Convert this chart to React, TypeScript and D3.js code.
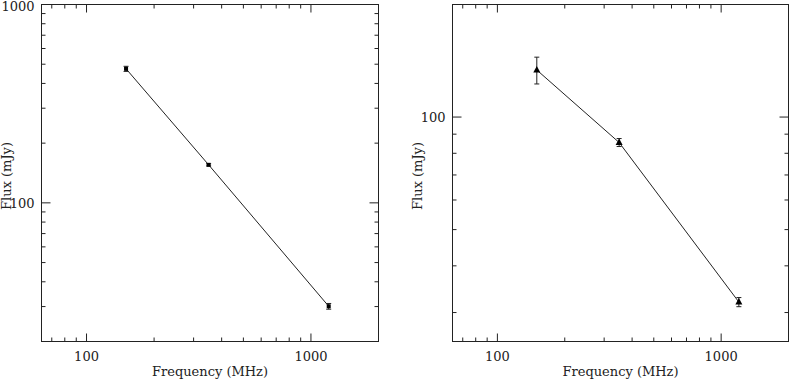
import React from 'react';
import * as d3 from 'd3';

// frequencies in MHz, shared by both panels
const freqs = [150, 350, 1200];

// left panel: flux and 1-sigma error (mJy)
const fluxLeft = [474, 155.5, 30.1];
const errLeft = [14, 2, 1];

// right panel
const fluxRight = [133.6, 85.5, 32.0];
const errRight = [11, 2.1, 0.9];

const xTickLabels = [100, 1000];
const yTickLabelsLeft = [100, 1000];
const yTickLabelsRight = [100];

const FONT = '"DejaVu Serif", serif';
const INK = '#222';

type PanelProps = {
  x0: number;
  x1: number;
  y0: number;
  y1: number;
  yDomain: [number, number];
  flux: number[];
  err: number[];
  yLabels: number[];
  marker: 'square' | 'triangle';
};

// all log ticks (1..9 x 10^n) inside a domain
const logTicks = (lo: number, hi: number) => {
  const out: number[] = [];
  for (let e = Math.floor(Math.log10(lo)); e <= Math.ceil(Math.log10(hi)); e++) {
    for (let m = 1; m <= 9; m++) {
      const v = m * Math.pow(10, e);
      if (v > lo * 1.001 && v < hi * 0.999) out.push(v);
    }
  }
  return out;
};

const isMajor = (v: number) => Math.abs(Math.log10(v) - Math.round(Math.log10(v))) < 1e-6;

const Panel = ({ x0, x1, y0, y1, yDomain, flux, err, yLabels, marker }: PanelProps) => {
  const x = d3.scaleLog().domain([63, 2000]).range([x0, x1]);
  const y = d3.scaleLog().domain(yDomain).range([y1, y0]);

  const xt = logTicks(63, 2000);
  const yt = logTicks(yDomain[0], yDomain[1]);

  const line = d3
    .line<number>()
    .x((d, i) => x(freqs[i]))
    .y((d) => y(d));

  return (
    <g>
      <rect x={x0} y={y0} width={x1 - x0} height={y1 - y0} fill="none" stroke={INK} strokeWidth={1} />

      {xt.map((v) => {
        const len = isMajor(v) ? 8 : 4;
        const px = x(v);
        return (
          <g key={'x' + v} stroke={INK} strokeWidth={1}>
            <line x1={px} x2={px} y1={y1} y2={y1 - len} />
            <line x1={px} x2={px} y1={y0} y2={y0 + len} />
          </g>
        );
      })}
      {yt.map((v) => {
        const len = isMajor(v) ? 9 : 4;
        const py = y(v);
        return (
          <g key={'y' + v} stroke={INK} strokeWidth={1}>
            <line x1={x0} x2={x0 + len} y1={py} y2={py} />
            <line x1={x1} x2={x1 - len} y1={py} y2={py} />
          </g>
        );
      })}

      {xTickLabels.map((v) => (
        <text key={'xl' + v} x={x(v)} y={y1 + 19} textAnchor="middle" fontFamily={FONT} fontSize={13} fill={INK}>
          {v}
        </text>
      ))}
      {yLabels.map((v) => (
        <text
          key={'yl' + v}
          x={x0 - 7}
          y={Math.max(y(v) + 5, 11)}
          textAnchor="end"
          fontFamily={FONT}
          fontSize={13}
          fill={INK}
        >
          {v}
        </text>
      ))}

      <text x={(x0 + x1) / 2} y={376} textAnchor="middle" fontFamily={FONT} fontSize={13} fill={INK}>
        Frequency (MHz)
      </text>
      <text
        transform={`translate(${x0 - 31},${(y0 + y1) / 2 + 3}) rotate(-90)`}
        textAnchor="middle"
        fontFamily={FONT}
        fontSize={13}
        fill={INK}
      >
        Flux (mJy)
      </text>

      <path d={line(flux) || ''} fill="none" stroke={INK} strokeWidth={1} />

      {flux.map((f, i) => {
        const px = x(freqs[i]);
        const lo = y(f - err[i]);
        const hi = y(f + err[i]);
        const py = y(f);
        return (
          <g key={'p' + i}>
            <g stroke={INK} strokeWidth={1}>
              <line x1={px} x2={px} y1={lo} y2={hi} />
              <line x1={px - 2.5} x2={px + 2.5} y1={lo} y2={lo} />
              <line x1={px - 2.5} x2={px + 2.5} y1={hi} y2={hi} />
            </g>
            {marker === 'square' ? (
              <rect x={px - 2} y={py - 2} width={4} height={4} fill="#000" />
            ) : (
              <path d={`M${px},${py - 4}L${px + 3.5},${py + 2.5}L${px - 3.5},${py + 2.5}Z`} fill="#000" />
            )}
          </g>
        );
      })}
    </g>
  );
};

export default function App() {
  return (
    <svg width={791} height={379} style={{ position: 'absolute', left: 0, top: 0, background: '#fff' }}>
      <Panel
        x0={41.5}
        x1={378.5}
        y0={4.5}
        y1={341.5}
        yDomain={[20, 1000]}
        flux={fluxLeft}
        err={errLeft}
        yLabels={yTickLabelsLeft}
        marker="square"
      />
      <Panel
        x0={452.5}
        x1={788.5}
        y0={4.5}
        y1={341.5}
        yDomain={[25.1, 200]}
        flux={fluxRight}
        err={errRight}
        yLabels={yTickLabelsRight}
        marker="triangle"
      />
    </svg>
  );
}
